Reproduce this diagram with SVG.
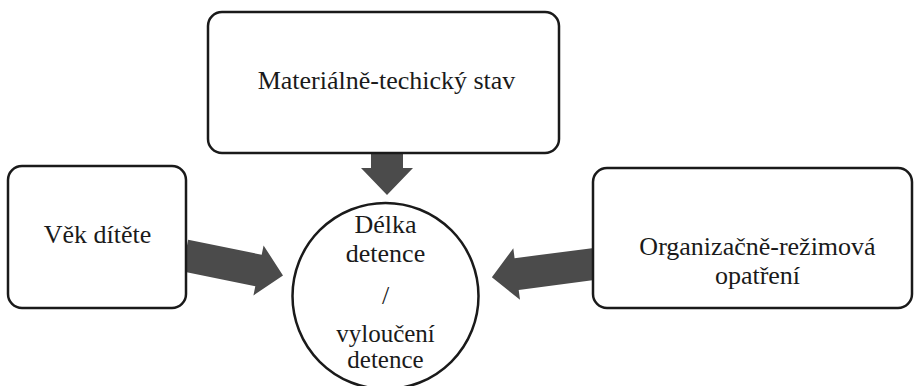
<svg xmlns="http://www.w3.org/2000/svg" width="915" height="386" viewBox="0 0 915 386">
  <style>
    .box { fill: #ffffff; stroke: #1a1a1a; stroke-width: 2.5; }
    .arrow { fill: #4b4b4b; stroke: none; }
    .label { font-family: "Liberation Serif", "DejaVu Serif", serif; font-size: 26px; fill: #1a1a1a; text-anchor: middle; }
    .small { font-size: 25px; }
  </style>
  <rect x="0" y="0" width="915" height="386" fill="#ffffff"/>

  <!-- block arrows pointing into the central circle -->
  <g id="connectors">
    <polygon class="arrow" points="371,152 403,152 403,168 413,168 387,195 361,168 371,168"/>
    <polygon class="arrow" transform="translate(185,255.5) rotate(11.5)" points="0,-16 75,-16 75,-25.5 100,0 75,25.5 75,16 0,16"/>
    <polygon class="arrow" transform="translate(594,264) rotate(172.6)" points="0,-16 78,-16 78,-26 103,0 78,26 78,16 0,16"/>
  </g>

  <g id="node-material">
    <rect class="box" x="208" y="12" width="351" height="141" rx="14" ry="14"/>
    <text class="label" x="386.5" y="89">Materiálně-techický stav</text>
  </g>

  <g id="node-vek">
    <rect class="box" x="8" y="166" width="178" height="142" rx="14" ry="14"/>
    <text class="label" x="97.5" y="243">Věk dítěte</text>
  </g>

  <g id="node-organizace">
    <rect class="box" x="593" y="168" width="319" height="140" rx="14" ry="14"/>
    <text class="label" x="757.5" y="255">Organizačně-režimová</text>
    <text class="label" x="757.5" y="284">opatření</text>
  </g>

  <g id="node-detence">
    <circle class="box" cx="385.5" cy="296" r="93"/>
    <text class="label" x="385.5" y="233">Délka</text>
    <text class="label" x="385.5" y="262">detence</text>
    <text class="label" x="385.5" y="304">/</text>
    <text class="label small" x="385.5" y="342">vyloučení</text>
    <text class="label small" x="385.5" y="368">detence</text>
  </g>
</svg>
